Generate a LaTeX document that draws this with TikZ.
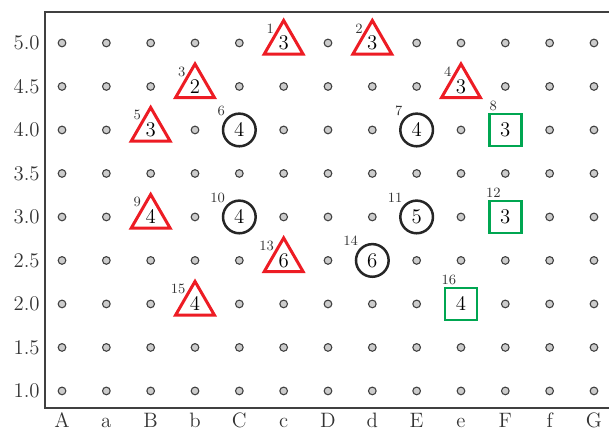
\documentclass[tikz,border=0pt]{standalone}
\usepackage{tikz}
\usetikzlibrary{shapes.geometric}

\definecolor{trired}{HTML}{ED1C24}
\definecolor{sqgreen}{HTML}{00A651}

\tikzset{
  griddot/.style={circle, draw=black!75, fill=black!20, line width=0.65pt, inner sep=0pt, minimum size=4.6pt},
  tri/.style={regular polygon, regular polygon sides=3, draw=trired, fill=white, line width=1.8pt, inner sep=0pt, minimum size=27pt},
  ring/.style={circle, draw=black!85, fill=white, line width=1.5pt, inner sep=0pt, minimum size=19.6pt},
  sqbox/.style={rectangle, draw=sqgreen, fill=white, line width=1.7pt, inner sep=0pt, minimum size=19.2pt},
  idx/.style={font=\fontsize{8.5}{9}\selectfont, text=black!80, inner sep=0pt},
  triidx/.style={idx, anchor=east, xshift=-5.6pt, yshift=8.8pt},
  ringidx/.style={idx, anchor=east, xshift=-8.4pt, yshift=11.6pt},
  sqidx/.style={idx, xshift=-7.2pt, yshift=14.6pt},
  axlab/.style={font=\fontsize{12.5}{14}\selectfont, text=black!80, inner sep=0pt},
}

\begin{document}
\begin{tikzpicture}[x=26.6pt, y=52.2pt, font=\fontsize{12.5}{14}\selectfont]
  \useasboundingbox (-0.399,0.529) rectangle (13.339,5.494);

  % frame (open on the right)
  \coordinate (tr) at (13.339,5.356);
  \coordinate (tl) at (0.6165,5.356);
  \coordinate (bl) at (0.6165,0.8046);
  \coordinate (br) at (13.339,0.8046);
  \draw[black!75, line width=0.8pt] (tr) -- (tl) -- (bl) -- (br);

  % axis labels
  \foreach \c [count=\i] in {A,a,B,b,C,c,D,d,E,e,F,f,G}
    \node[axlab, anchor=base] (col-\c) at (\i,0.58) {\c};
  \foreach \v [count=\j] in {1.0,1.5,2.0,2.5,3.0,3.5,4.0,4.5,5.0}
    \node[axlab, anchor=east] (row-\j) at (0.504,\v) {\v};

  % grid of dots
  \foreach \c [count=\i] in {A,a,B,b,C,c,D,d,E,e,F,f,G}
    \foreach \v [count=\j] in {1.0,1.5,2.0,2.5,3.0,3.5,4.0,4.5,5.0}
      \node[griddot] (\c-\j) at (\i,\v) {};

  % markers
  \node[tri] (m1) at (c-9) {3};   \node[triidx] (i1) at (c-9) {1};
  \node[tri] (m2) at (d-9) {3};   \node[triidx] (i2) at (d-9) {2};
  \node[tri] (m3) at (b-8) {2};   \node[triidx] (i3) at (b-8) {3};
  \node[tri] (m4) at (e-8) {3};   \node[triidx] (i4) at (e-8) {4};
  \node[tri] (m5) at (B-7) {3};   \node[triidx] (i5) at (B-7) {5};
  \node[ring] (m6) at (C-7) {4};  \node[ringidx] (i6) at (C-7) {6};
  \node[ring] (m7) at (E-7) {4};  \node[ringidx] (i7) at (E-7) {7};
  \node[sqbox] (m8) at (F-7) {3}; \node[sqidx] (i8) at (F-7) {8};
  \node[tri] (m9) at (B-5) {4};   \node[triidx] (i9) at (B-5) {9};
  \node[ring] (m10) at (C-5) {4}; \node[ringidx] (i10) at (C-5) {10};
  \node[ring] (m11) at (E-5) {5}; \node[ringidx] (i11) at (E-5) {11};
  \node[sqbox] (m12) at (F-5) {3};\node[sqidx] (i12) at (F-5) {12};
  \node[tri] (m13) at (c-4) {6};  \node[triidx] (i13) at (c-4) {13};
  \node[ring] (m14) at (d-4) {6}; \node[ringidx] (i14) at (d-4) {14};
  \node[tri] (m15) at (b-3) {4};  \node[triidx] (i15) at (b-3) {15};
  \node[sqbox] (m16) at (e-3) {4};\node[sqidx] (i16) at (e-3) {16};
\end{tikzpicture}
\end{document}
